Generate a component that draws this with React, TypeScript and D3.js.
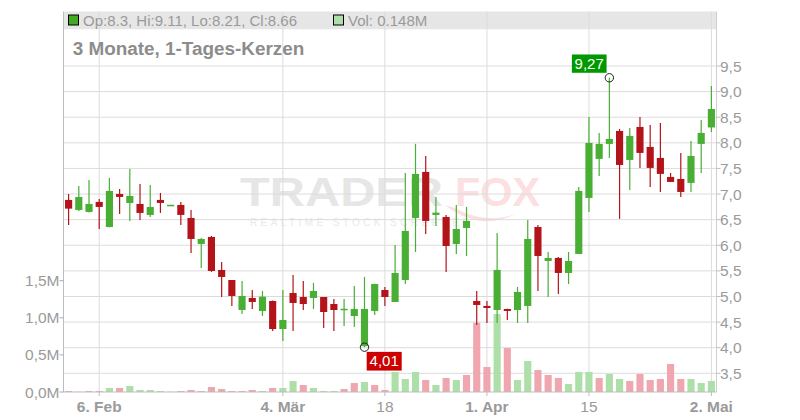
import React from 'react';
import * as d3 from 'd3';

// daily candles, 3 months
const opens = [6.885, 6.689, 6.65, 6.846, 6.357, 7.002, 6.826, 6.807, 6.592, 6.885, 6.78, 6.787, 6.533, 6.025, 6.162, 5.518,
	5.322, 4.736, 4.971, 4.717, 4.912, 4.365, 5.068, 4.99, 4.971, 4.99, 4.853, 4.75, 4.619, 4.03, 4.717, 5.127,
	4.893, 5.322, 6.533, 7.432, 6.592, 6.553, 6.025, 6.338, 4.912, 4.815, 4.736, 4.756, 4.736, 4.815, 6.357, 5.693,
	5.752, 5.459, 5.83, 6.924, 7.686, 7.979, 8.232, 7.666, 8.31, 7.92, 7.705, 7.334, 7.295, 7.217, 7.979, 8.3];
const highs = [7.002, 7.158, 7.275, 6.904, 7.315, 7.1, 7.49, 7.197, 7.178, 7.022, 6.79, 6.846, 6.689, 6.143, 6.182, 5.674,
	5.322, 5.303, 5.127, 5.107, 4.92, 5.127, 5.42, 5.303, 5.264, 4.99, 4.951, 4.951, 5.205, 5.381, 5.25, 5.186,
	6.006, 7.412, 7.98, 7.744, 6.943, 6.592, 6.787, 6.748, 5.107, 4.912, 6.24, 4.76, 5.186, 6.494, 6.396, 5.869,
	5.771, 5.869, 7.139, 8.506, 8.193, 9.27, 8.271, 8.291, 8.506, 8.35, 8.389, 7.412, 7.803, 8.037, 8.447, 9.11];
const lows = [6.396, 6.67, 6.64, 6.318, 6.35, 6.611, 6.475, 6.494, 6.553, 6.631, 6.78, 6.396, 5.85, 5.557, 5.479, 4.99,
	4.815, 4.658, 4.756, 4.619, 4.326, 4.131, 4.326, 4.736, 4.756, 4.385, 4.326, 4.424, 4.404, 4.01, 4.639, 4.815,
	4.89, 5.244, 5.869, 6.221, 6.377, 5.479, 5.83, 5.791, 4.443, 4.482, 4.482, 4.541, 4.482, 4.482, 5.107, 4.99,
	5.049, 5.244, 5.83, 6.65, 7.354, 7.705, 6.514, 7.08, 7.51, 7.139, 7.041, 7.236, 6.943, 7.041, 7.412, 8.21];
const closes = [6.715, 6.943, 6.807, 6.748, 7.061, 6.943, 6.963, 6.631, 6.748, 6.826, 6.79, 6.592, 6.123, 6.123, 5.498, 5.381,
	5.01, 5.01, 4.893, 4.996, 4.365, 4.541, 4.873, 4.853, 5.107, 4.697, 4.736, 4.76, 4.756, 4.756, 5.244, 4.99,
	5.459, 6.279, 7.393, 6.475, 6.637, 5.986, 6.318, 6.475, 4.834, 4.775, 5.518, 4.717, 5.088, 6.123, 5.791, 5.752,
	5.459, 5.693, 7.061, 7.998, 7.979, 8.076, 7.568, 8.135, 7.803, 7.51, 7.393, 7.236, 7.041, 7.744, 8.193, 8.66];
// volume in millions
const volumes = [0.013, 0.004, 0.013, 0.013, 0.054, 0.054, 0.081, 0.027, 0.027, 0.013, 0.004, 0.013, 0.027, 0.013, 0.067, 0.04,
	0.013, 0.013, 0.027, 0.013, 0.054, 0.054, 0.148, 0.094, 0.054, 0.013, 0.013, 0.04, 0.121, 0.135, 0.094, 0.027,
	0.27, 0.175, 0.27, 0.162, 0.094, 0.189, 0.162, 0.229, 0.934, 0.337, 1.051, 0.593, 0.162, 0.418, 0.296, 0.229,
	0.189, 0.108, 0.27, 0.27, 0.189, 0.243, 0.175, 0.148, 0.243, 0.162, 0.175, 0.377, 0.175, 0.175, 0.121, 0.148];
// u = close up vs previous close, d = down, f = unchanged
const volumeDir = "dudduduuuuudddddddduduuduuuddudduuudududdduduuddduuuduudddddduuu";

const xTickIndex = [3, 21, 31, 41, 51, 63];
const xTickLabels = ["6. Feb", "4. Mär", "18", "1. Apr", "15", "2. Mai"];
const xTickBold = [true, true, false, true, false, true];
const priceTicks = [3.5, 4, 4.5, 5, 5.5, 6, 6.5, 7, 7.5, 8, 8.5, 9, 9.5];
const volumeTicks = [0, 0.5, 1.0, 1.5];

const W = 800, H = 420;
const left = 63.5, right = 716.5, top = 11.5, bottom = 392;
const FONT = "'Liberation Sans', Arial, sans-serif";
const GREEN = "#48ae34", RED = "#b3141a";
const VOL_COL: Record<string, string> = { u: "#addfa8", d: "#f0a6ae", f: "#bbbbbb" };

const comma = (v: number, f: string) => d3.format(f)(v).replace(".", ",");

export default function App() {
	const idx = d3.range(opens.length);
	const x = d3.scaleBand<number>().domain(idx).range([left, right]).paddingInner(0.3).paddingOuter(0.15);
	const y = d3.scaleLinear().domain([3.5, 9.5]).range([373.3, 66]);
	const yv = d3.scaleLinear().domain([0, 1.5]).range([bottom, 280.7]);
	const bw = x.bandwidth();
	const cx = (i: number) => (x(i) as number) + bw / 2;

	const hiIdx = d3.maxIndex(highs);
	const loIdx = d3.minIndex(lows);

	return (
		<svg width={W} height={H} style={{ position: "absolute", left: 0, top: 0, background: "#fff" }} fontFamily={FONT}>
			{/* watermark */}
			<g>
				<text x={240} y={206} fontSize={40} fontWeight="bold" fill="#e6e6e6" textLength={203} lengthAdjust="spacingAndGlyphs">TRADER</text>
				<text x={455} y={206} fontSize={40} fontWeight="bold" fill="#fcdfe1" textLength={85} lengthAdjust="spacingAndGlyphs">FOX</text>
				<path d="M445,205 C470,225 500,228 530,205 C510,222 480,222 455,208 Z" fill="#fcdfe1" />
				<text x={250} y={225.5} fontSize={10} fill="#e9e9e9" letterSpacing={3.4}>REALTIME STOCK SCREENER</text>
			</g>

			{/* legend band */}
			<rect x={left} y={top} width={right - left} height={17.8} fill="#e6e6e6" />

			{/* grid */}
			{priceTicks.map(p => (
				<line key={"g" + p} x1={left} x2={right} y1={y(p)} y2={y(p)} stroke="#dcdcdc" strokeWidth={1} />
			))}
			{xTickIndex.map(i => (
				<line key={"v" + i} x1={cx(i)} x2={cx(i)} y1={top} y2={bottom} stroke="#dcdcdc" strokeWidth={1} />
			))}

			{/* volume */}
			{volumes.map((v, i) => (
				<rect key={"vol" + i} x={x(i)} y={yv(v)} width={bw} height={bottom - yv(v)} fill={VOL_COL[volumeDir[i]]} />
			))}

			{/* candles */}
			{idx.map(i => {
				const up = closes[i] >= opens[i];
				const col = up ? GREEN : RED;
				const yT = y(Math.max(opens[i], closes[i]));
				const yB = y(Math.min(opens[i], closes[i]));
				return (
					<g key={"c" + i}>
						<line x1={cx(i)} x2={cx(i)} y1={y(highs[i])} y2={y(lows[i])} stroke={col} strokeWidth={1.2} />
						<rect x={x(i)} y={yT} width={bw} height={Math.max(yB - yT, 1.5)} fill={col} />
					</g>
				);
			})}

			{/* axes */}
			<line x1={left} x2={left} y1={top} y2={bottom} stroke="#bdbdbd" />
			<line x1={right} x2={right} y1={top} y2={bottom} stroke="#cfcfcf" />
			<line x1={left} x2={right} y1={bottom} y2={bottom} stroke="#bdbdbd" />

			{priceTicks.map(p => (
				<g key={"pt" + p}>
					<line x1={right} x2={right + 4} y1={y(p)} y2={y(p)} stroke="#bdbdbd" />
					<text x={720} y={y(p)} dy="0.36em" fontSize={15.5} fill="#9a9a9a">{comma(p, ".1f")}</text>
				</g>
			))}
			{volumeTicks.map(v => (
				<g key={"vt" + v}>
					<line x1={left - 4} x2={left} y1={yv(v)} y2={yv(v)} stroke="#aaaaaa" />
					<text x={59.5} y={yv(v)} dy="0.36em" fontSize={15.5} fill="#9a9a9a" textAnchor="end">{comma(v, ".1f") + "M"}</text>
				</g>
			))}
			{xTickIndex.map((i, k) => (
				<g key={"xt" + i}>
					<line x1={cx(i)} x2={cx(i)} y1={bottom} y2={bottom + 4} stroke="#bdbdbd" />
					<text x={cx(i)} y={411.7} fontSize={15.5} fill="#9a9a9a" textAnchor="middle" fontWeight={xTickBold[k] ? "bold" : "normal"}>{xTickLabels[k]}</text>
				</g>
			))}

			{/* high / low markers */}
			<g>
				<circle cx={cx(hiIdx)} cy={y(highs[hiIdx])} r={4.2} fill="none" stroke="#222" strokeWidth={1} />
				<rect x={cx(hiIdx) - 37.5} y={y(highs[hiIdx]) - 23.3} width={34.7} height={18.3} fill="#009a00" />
				<text x={cx(hiIdx) - 20.2} y={y(highs[hiIdx]) - 8.8} fontSize={15} fill="#fff" textAnchor="middle">{comma(highs[hiIdx], ".2f")}</text>
				<circle cx={cx(loIdx)} cy={y(lows[loIdx])} r={4.2} fill="none" stroke="#222" strokeWidth={1} />
				<rect x={cx(loIdx) + 2.2} y={y(lows[loIdx]) + 4.7} width={35} height={18.7} fill="#cc0000" />
				<text x={cx(loIdx) + 19.7} y={y(lows[loIdx]) + 19.3} fontSize={15} fill="#fff" textAnchor="middle">{comma(lows[loIdx], ".2f")}</text>
			</g>

			{/* legend */}
			<rect x={68.5} y={15} width={10} height={10} fill="#44aa22" stroke="#000" strokeWidth={1} />
			<text x={83} y={26.2} fontSize={15} fill="#9a9a9a">
				{`Op:${opens[63]}, Hi:${highs[63]}, Lo:${lows[63]}, Cl:${closes[63]}`}
			</text>
			<rect x={333.5} y={15} width={10} height={10} fill="#addfa8" stroke="#000" strokeWidth={1} />
			<text x={348} y={26.2} fontSize={15} fill="#9a9a9a">{`Vol: ${volumes[63]}M`}</text>
			<text x={72.7} y={55} fontSize={18.9} fontWeight="bold" fill="#8c8c8c">3 Monate, 1-Tages-Kerzen</text>
		</svg>
	);
}
